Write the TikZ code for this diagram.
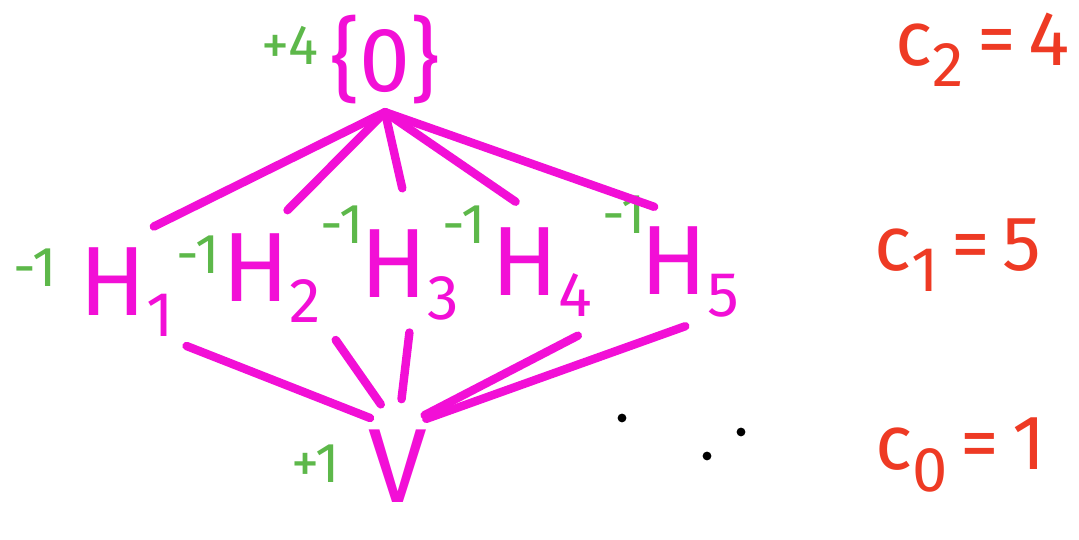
\documentclass[tikz,border=0pt]{standalone}
\usepackage{fontspec}
\setmainfont{Fira Sans}
\usepackage{tikz}
\usetikzlibrary{positioning}
\definecolor{hotpink}{HTML}{F20FD6}
\definecolor{grn}{HTML}{5DB84A}
\definecolor{redc}{HTML}{EE3A24}
\newcommand{\sub}[1]{\lower6pt\hbox{\fontsize{18}{18}\selectfont #1}}
\tikzset{
  pinkline/.style={draw=hotpink, line width=2.4pt, line cap=round},
  hnode/.style={text=hotpink, font=\fontsize{28}{28}\selectfont, inner sep=2pt},
  wt/.style={text=grn, font=\fontsize{16}{16}\selectfont, inner sep=1pt},
  cnt/.style={text=redc, font=\fontsize{22}{22}\selectfont, inner sep=1pt, anchor=east},
  dot/.style={circle, fill=black, inner sep=0pt, minimum size=2.5pt}
}
\begin{document}
\begin{tikzpicture}
  \useasboundingbox (0,0) rectangle (10.79,5.40);
  % levels
  \node[hnode, font=\fontsize{26}{26}\selectfont] (top) at (3.85,4.80) {\{0\}};
  \node[hnode] (h1) at (1.27,2.48) {H\sub{1}};
  \node[hnode] (h2) at (2.72,2.62) {H\sub{2}};
  \node[hnode] (h3) at (4.10,2.65) {H\sub{3}};
  \node[hnode] (h4) at (5.42,2.68) {H\sub{4}};
  \node[hnode] (h5) at (6.90,2.68) {H\sub{5}};
  \node[hnode, font=\fontsize{30}{30}\selectfont, inner sep=0pt] (v) at (3.98,0.74) {V};
  % weights
  \node[wt] (wtop) at (2.90,4.95) {+4};
  \node[wt] (w1) at (0.35,2.72) {-1};
  \node[wt] (w2) at (1.98,2.85) {-1};
  \node[wt] (w3) at (3.42,3.15) {-1};
  \node[wt] (w4) at (4.64,3.15) {-1};
  \node[wt] (w5) at (6.24,3.25) {-1};
  \node[wt] (wv) at (3.16,0.76) {+1};
  % counts
  \node[cnt] (c2) at (10.74,4.90) {c\sub{2}\,=\,4};
  \node[cnt] (c1) at (10.46,2.85) {c\sub{1}\,=\,5};
  \node[cnt] (c0) at (10.50,0.85) {c\sub{0}\,=\,1};
  \node[dot] (d1) at (6.22,1.22) {};
  \node[dot] (d2) at (7.07,0.84) {};
  \node[dot] (d3) at (7.41,1.08) {};
  % edges
  \foreach \h/\s in {h1/0.30,h2/0.22,h3/0.35,h4/0.32,h5/0.38}
    \draw[pinkline, shorten >=\s cm] (top.south) -- (\h.north);
  \foreach \h/\s in {h1.south east/0.05,h2.south east/0.12,h3.south/0.05,h4.south east/0.25,h5.south/0.05}
    \draw[pinkline, shorten <=0.3cm, shorten >=\s cm] (v.north) -- (\h);
\end{tikzpicture}
\end{document}
